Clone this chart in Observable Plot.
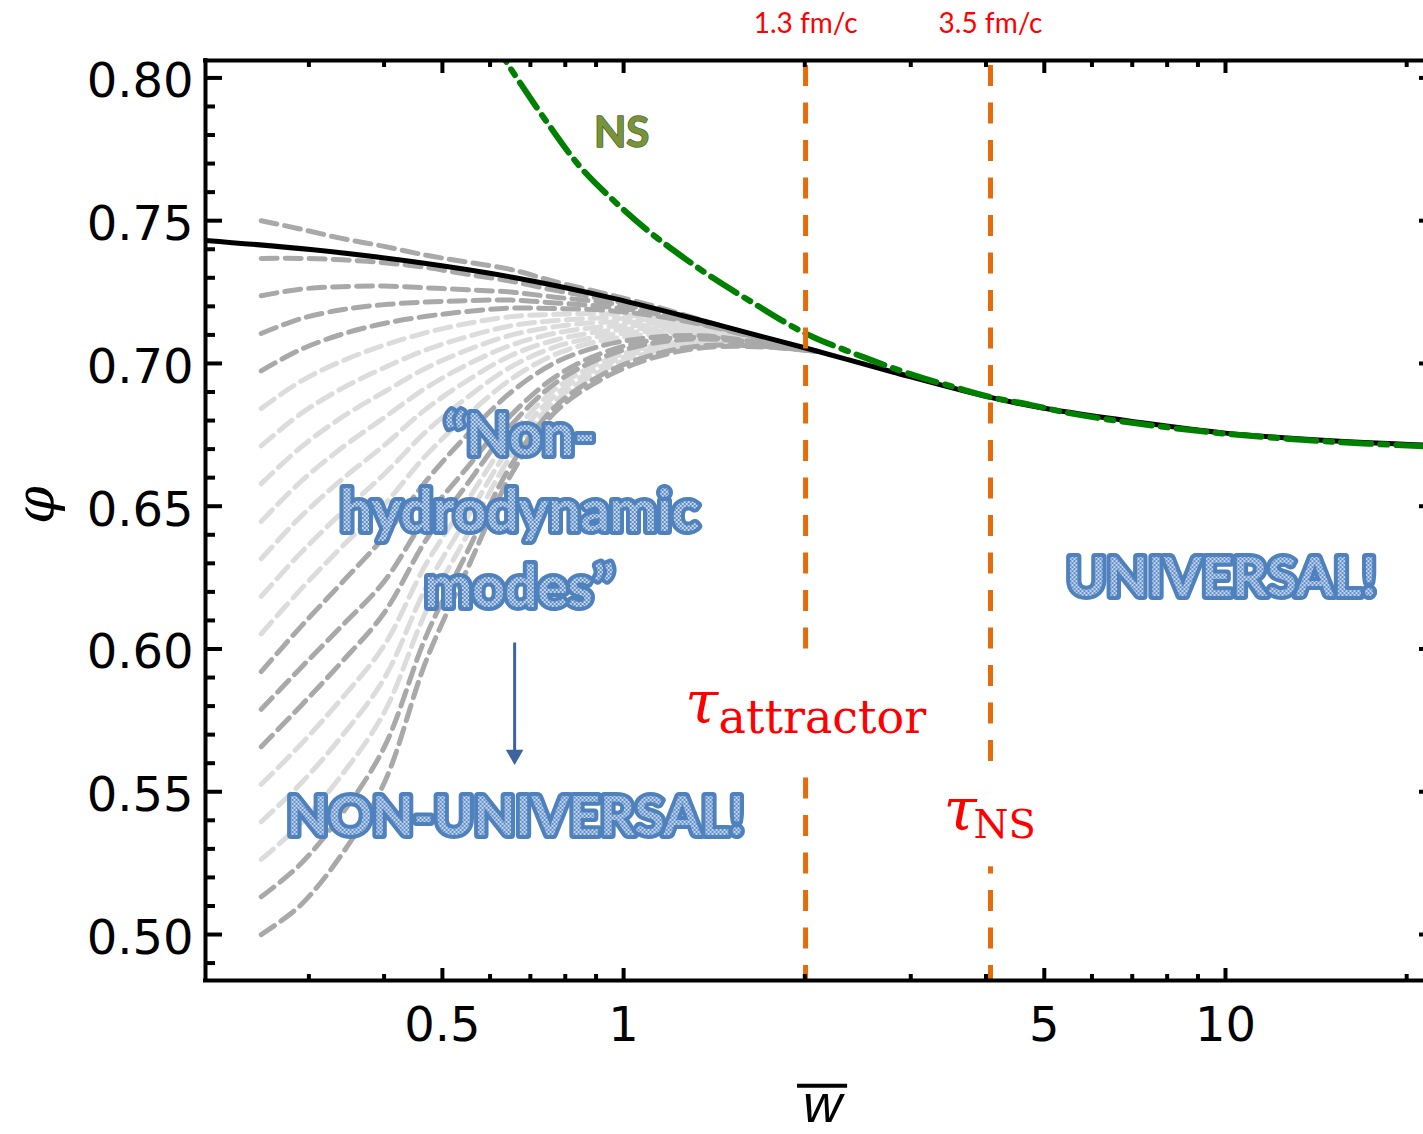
<!DOCTYPE html>
<html><head><meta charset="utf-8">
<script src="https://cdn.jsdelivr.net/npm/d3@7"></script>
<script src="https://cdn.jsdelivr.net/npm/@observablehq/plot@0.6"></script>
<style>body{margin:0;background:#fff} #chart svg{display:block}</style>
</head><body><div id="chart"></div>
<script>
// ---------------- data ----------------
const xDomain = [0.202, 21.33];
const yDomain = [0.4839, 0.8061];

const grayW = [0.25, 0.29, 0.34, 0.40, 0.47, 0.55, 0.65, 0.77, 0.92, 1.1, 1.35, 1.7, 2.1];
const grayShade = ["D","D","D","D","D","L","L","L","L","L","L","L","D","D","D","L","L","L","D","D"];
const grayCurves = [
  [0.7500, 0.7471, 0.7438, 0.7410, 0.7379, 0.7355, 0.7329, 0.7286, 0.7247, 0.7206, 0.7152, 0.7091, 0.7042],
  [0.7368, 0.7368, 0.7363, 0.7353, 0.7336, 0.7312, 0.7288, 0.7256, 0.7227, 0.7195, 0.7148, 0.7090, 0.7042],
  [0.7237, 0.7260, 0.7269, 0.7271, 0.7265, 0.7258, 0.7250, 0.7232, 0.7215, 0.7188, 0.7144, 0.7088, 0.7042],
  [0.7105, 0.7156, 0.7188, 0.7206, 0.7215, 0.7220, 0.7222, 0.7212, 0.7200, 0.7179, 0.7140, 0.7087, 0.7042],
  [0.6974, 0.7048, 0.7102, 0.7140, 0.7165, 0.7182, 0.7194, 0.7192, 0.7187, 0.7170, 0.7136, 0.7085, 0.7042],
  [0.6842, 0.6936, 0.7008, 0.7064, 0.7108, 0.7140, 0.7164, 0.7172, 0.7174, 0.7162, 0.7132, 0.7084, 0.7042],
  [0.6711, 0.6822, 0.6912, 0.6985, 0.7048, 0.7094, 0.7132, 0.7150, 0.7159, 0.7152, 0.7127, 0.7082, 0.7042],
  [0.6579, 0.6704, 0.6811, 0.6900, 0.6984, 0.7047, 0.7099, 0.7129, 0.7144, 0.7142, 0.7122, 0.7081, 0.7042],
  [0.6447, 0.6584, 0.6704, 0.6810, 0.6915, 0.6996, 0.7064, 0.7106, 0.7128, 0.7132, 0.7117, 0.7079, 0.7042],
  [0.6316, 0.6461, 0.6593, 0.6713, 0.6841, 0.6940, 0.7028, 0.7082, 0.7112, 0.7122, 0.7112, 0.7077, 0.7042],
  [0.6184, 0.6334, 0.6477, 0.6612, 0.6762, 0.6881, 0.6988, 0.7058, 0.7096, 0.7112, 0.7107, 0.7076, 0.7042],
  [0.6053, 0.6206, 0.6357, 0.6505, 0.6679, 0.6818, 0.6945, 0.7032, 0.7080, 0.7101, 0.7102, 0.7074, 0.7042],
  [0.5921, 0.6075, 0.6231, 0.6393, 0.6589, 0.6750, 0.6899, 0.7003, 0.7062, 0.7090, 0.7097, 0.7072, 0.7042],
  [0.5789, 0.5931, 0.6080, 0.6236, 0.6462, 0.6636, 0.6819, 0.6953, 0.7036, 0.7079, 0.7091, 0.7070, 0.7042],
  [0.5658, 0.5798, 0.5954, 0.6126, 0.6383, 0.6578, 0.6783, 0.6931, 0.7020, 0.7068, 0.7086, 0.7069, 0.7042],
  [0.5526, 0.5663, 0.5826, 0.6012, 0.6299, 0.6519, 0.6747, 0.6910, 0.7005, 0.7058, 0.7080, 0.7067, 0.7042],
  [0.5395, 0.5526, 0.5694, 0.5896, 0.6217, 0.6460, 0.6712, 0.6889, 0.6990, 0.7048, 0.7074, 0.7065, 0.7042],
  [0.5263, 0.5386, 0.5558, 0.5777, 0.6133, 0.6400, 0.6677, 0.6869, 0.6975, 0.7037, 0.7068, 0.7063, 0.7042],
  [0.5132, 0.5245, 0.5421, 0.5655, 0.6046, 0.6341, 0.6643, 0.6849, 0.6960, 0.7026, 0.7062, 0.7060, 0.7042],
  [0.5000, 0.5101, 0.5280, 0.5530, 0.5960, 0.6280, 0.6610, 0.6830, 0.6945, 0.7015, 0.7055, 0.7058, 0.7042]
];

const attractorW   = [0.202, 0.305, 0.448, 0.657, 0.962, 1.4, 2.006, 2.8, 4.07, 5, 7, 10, 15, 21.33];
const attractorPhi = [0.7431, 0.7398, 0.7356, 0.7301, 0.7228, 0.7141, 0.7054, 0.6970, 0.6881, 0.6843, 0.6797, 0.6756, 0.6729, 0.6714];

const nsW   = [0.60, 0.637, 0.657, 0.748, 0.848, 0.962, 1.096, 1.244, 1.411, 1.644, 1.916, 2.068, 2.504, 3.032, 3.453, 4.07, 4.74, 5.5, 7, 10, 15, 21.33];
const nsPhi = [0.8145, 0.806, 0.8016, 0.7841, 0.7687, 0.7571, 0.7466, 0.7378, 0.7298, 0.7211, 0.7127, 0.7092, 0.7022, 0.6959, 0.6924, 0.6882, 0.6855, 0.6826, 0.6792, 0.6754, 0.6726, 0.6710];

const markerW = [2.006, 4.07];
const markerLabels = ["1.3 fm/c", "3.5 fm/c"];

const xMajor = [0.5, 1, 5, 10];
const xMinor = [0.3, 0.4, 0.6, 0.7, 0.8, 0.9, 2, 3, 4, 6, 7, 8, 9, 20];
const yMajor = [0.50, 0.55, 0.60, 0.65, 0.70, 0.75, 0.80];
const yMinor = [0.49,0.51,0.52,0.53,0.54,0.56,0.57,0.58,0.59,0.61,0.62,0.63,0.64,0.66,0.67,0.68,0.69,0.71,0.72,0.73,0.74,0.76,0.77,0.78,0.79];

// annotation anchors (data coordinates)
const wordArt = [
  {text: "\u201CNon-\nhydrodynamic\nmodes\u201D", w: 0.672, phi: 0.6147, size: 57},
  {text: "NON-UNIVERSAL!", w: 0.6614, phi: 0.5349, size: 54},
  {text: "UNIVERSAL!", w: 9.849, phi: 0.6185, size: 54}
];
const nsLabel = [{text: "NS", w: 0.9924, phi: 0.7757}];
const tauMain = [{text: "\u03C4", w: 1.265, phi: 0.5741}, {text: "\u03C4", w: 3.40, phi: 0.5366}];
const tauSub = [{text: "attractor", w: 1.438, phi: 0.5706, size: 46}, {text: "NS", w: 3.814, phi: 0.5338, size: 40}];
const knockouts = [{w1: 1.894, w2: 2.125, p1: 0.5559, p2: 0.5996}, {w1: 3.843, w2: 4.31, p1: 0.5237, p2: 0.5604}];
const arrowShaft = [{w: 0.6591, p1: 0.6021, p2: 0.5640}];
const arrowHead = [{w: 0.6591, phi: 0.5629}];
const xLabel = [{text: "w", w: 2.141, phi: 0.4344}];
const xLabelBar = [{w1: 1.9454, w2: 2.356, phi: 0.4470}];
const yLabel = [{text: "\u03C6", w: 0.1059, phi: 0.6504}];

// ---------------- build ----------------
const grayRows = [];
grayCurves.forEach((vals, k) => vals.forEach((v, i) => grayRows.push({id: k, w: grayW[i], phi: v, shade: grayShade[k]})));
const attractor = attractorW.map((w, i) => ({w, phi: attractorPhi[i]}));
const ns = nsW.map((w, i) => ({w, phi: nsPhi[i]}));
const markers = markerW.map((w, i) => ({w, label: markerLabels[i]}));

const blueOutline = "#4f81bd";
const wordStyle = {fontFamily: "Lato", fontWeight: "bold", fill: "url(#wordart)", stroke: blueOutline,
  strokeWidth: 8, strokeLinejoin: "round", paintOrder: "stroke", lineAnchor: "bottom", lineHeight: 1.33};

const chart = Plot.plot({
  width: 1423, height: 1134,
  marginLeft: 205, marginRight: 0, marginTop: 60, marginBottom: 154,
  x: {type: "log", domain: xDomain, label: null},
  y: {domain: yDomain, label: null},
  style: {fontFamily: "DejaVu Sans", background: "white", color: "black"},
  marks: [
    Plot.line(grayRows.filter(d => d.shade === "L"), {x: "w", y: "phi", z: "id", stroke: "#dcdcdc", strokeWidth: 5, strokeDasharray: "16,8", curve: "catmull-rom", clip: true}),
    Plot.line(grayRows.filter(d => d.shade === "D"), {x: "w", y: "phi", z: "id", stroke: "#a9a9a9", strokeWidth: 5, strokeDasharray: "16,8", curve: "catmull-rom", clip: true}),
    Plot.line(attractor, {x: "w", y: "phi", stroke: "black", strokeWidth: 5, curve: "catmull-rom", clip: true}),
    Plot.line(ns, {x: "w", y: "phi", stroke: "#008000", strokeWidth: 6, strokeDasharray: "30,9,7,9", curve: "catmull-rom", clip: true}),
    Plot.ruleX(markers, {x: "w", stroke: "#e46c0a", strokeWidth: 5, strokeDasharray: "21,16.5", strokeDashoffset: 32.5}),
    Plot.rect(knockouts, {x1: "w1", x2: "w2", y1: "p1", y2: "p2", fill: "white"}),
    Plot.text(markers, {x: "w", y: () => 0.8156, text: "label", fill: "#ff0000", fontFamily: "Lato", fontSize: 28, lineAnchor: "bottom"}),
    Plot.text(nsLabel, {x: "w", y: "phi", text: "text", fill: "#77933c", stroke: "#4f6228", strokeWidth: 1.5, paintOrder: "stroke", fontFamily: "Lato", fontWeight: "bold", fontSize: 42, lineAnchor: "bottom"}),
    Plot.text(wordArt, {x: "w", y: "phi", text: "text", fontSize: d => d.size, ...wordStyle}),
    Plot.ruleX(arrowShaft, {x: "w", y1: "p1", y2: "p2", stroke: "#3b64a0", strokeWidth: 3}),
    Plot.dot(arrowHead, {x: "w", y: "phi", symbol: "triangle", rotate: 180, r: 6.5, fill: "#3b64a0"}),
    Plot.text(tauMain, {x: "w", y: "phi", text: "text", fill: "#ff0000", fontFamily: "DejaVu Serif", fontStyle: "italic", fontSize: 60, textAnchor: "start", lineAnchor: "bottom"}),
    Plot.text(tauSub, {x: "w", y: "phi", text: "text", fill: "#ff0000", fontFamily: "DejaVu Serif", fontSize: d => d.size, textAnchor: "start", lineAnchor: "bottom"}),
    // axis ticks (inward)
    Plot.axisX(xMajor, {anchor: "bottom", tickSize: -12, strokeWidth: 4, fill: "none", label: null}),
    Plot.axisX(xMinor, {anchor: "bottom", tickSize: -6, strokeWidth: 4, fill: "none", label: null}),
    Plot.axisX(xMajor, {anchor: "top", tickSize: -12, strokeWidth: 4, fill: "none", label: null}),
    Plot.axisX(xMinor, {anchor: "top", tickSize: -6, strokeWidth: 4, fill: "none", label: null}),
    Plot.axisY(yMajor, {anchor: "left", tickSize: -17, strokeWidth: 4, fill: "none", label: null}),
    Plot.axisY(yMinor, {anchor: "left", tickSize: -10, strokeWidth: 4, fill: "none", label: null}),
    Plot.axisY(yMajor, {anchor: "right", tickSize: -5, strokeWidth: 4, fill: "none", label: null}),
    // tick labels
    Plot.axisX(xMajor, {anchor: "bottom", tickSize: 0, tickPadding: 26, fontSize: 48, tickFormat: d => String(d), label: null}),
    Plot.axisY(yMajor, {anchor: "left", tickSize: 0, tickPadding: 12, fontSize: 48, dy: 4, tickFormat: d3.format(".2f"), label: null}),
    // frame
    Plot.ruleX([xDomain[0]], {stroke: "black", strokeWidth: 4, strokeLinecap: "square"}),
    Plot.ruleY(yDomain, {stroke: "black", strokeWidth: 4, strokeLinecap: "square"}),
    // axis titles
    Plot.text(xLabel, {x: "w", y: "phi", text: "text", fontFamily: "Liberation Sans", fontStyle: "italic", fontSize: 54, lineAnchor: "bottom", fill: "black"}),
    Plot.ruleY(xLabelBar, {x1: "w1", x2: "w2", y: "phi", stroke: "black", strokeWidth: 4}),
    Plot.text(yLabel, {x: "w", y: "phi", text: "text", fontFamily: "DejaVu Serif", fontStyle: "italic", fontSize: 54, rotate: -90, fill: "black"})
  ]
});

const defs = document.createElementNS("http://www.w3.org/2000/svg", "defs");
defs.innerHTML = '<pattern id="wordart" width="4" height="4" patternUnits="userSpaceOnUse">' +
  '<rect width="4" height="4" fill="#c9d8ee"/><rect width="2" height="2" fill="#5b8bc8"/><rect x="2" y="2" width="2" height="2" fill="#5b8bc8"/></pattern>';
chart.insertBefore(defs, chart.firstChild);
document.getElementById("chart").appendChild(chart);
</script>
</body></html>
